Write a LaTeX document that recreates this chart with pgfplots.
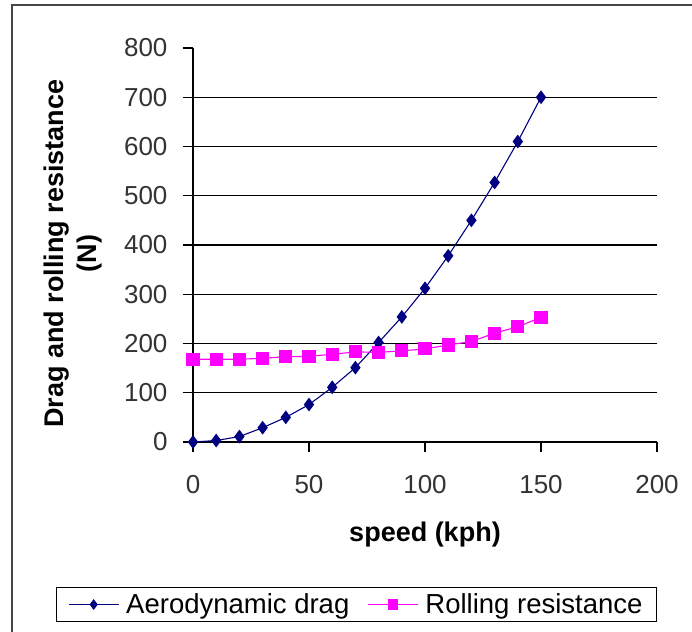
\documentclass[border=0pt]{standalone}
\usepackage{fontspec}
\setmainfont{Liberation Sans}
\usepackage{pgfplots}
\pgfplotsset{compat=1.18}
\definecolor{dragc}{RGB}{0,0,128}
\definecolor{rollc}{RGB}{255,0,255}
\definecolor{framec}{RGB}{70,70,70}
\begin{document}
\begin{tikzpicture}[x=1pt,y=1pt]
\useasboundingbox (0,0) rectangle (692,631);
\draw[framec, line width=2pt] (12,-10) -- (12,626) -- (700,626);
\begin{axis}[
  at={(193pt,189pt)}, anchor=south west,
  scale only axis, width=464pt, height=394pt,
  xmin=0, xmax=200, ymin=0, ymax=800,
  axis lines*=left,
  axis line style={black, line width=1.2pt},
  xtick={0,50,...,200},
  ytick={0,100,...,700},
  extra y ticks={800},
  extra y tick style={grid=none},
  ymajorgrids,
  major grid style={black, line width=1.1pt},
  tick align=outside,
  major tick length=10pt,
  tick style={black, line width=1.2pt},
  /pgf/number format/assume math mode=true,
  ticklabel style={font=\fontsize{26}{30}\selectfont, text=black!80},
  xticklabel style={yshift=-20pt},
  yticklabel style={xshift=-12pt},
  xlabel={\textbf{speed (kph)}},
  ylabel={\textbf{Drag and rolling resistance}\\\textbf{(N)}},
  label style={font=\fontsize{27}{33}\selectfont},
  xlabel style={at={(axis description cs:0.5,-0.236)}, anchor=center},
  ylabel style={at={(axis description cs:-0.2586,0.478)}, anchor=center, align=center},
  clip=false,
  legend columns=2,
  legend style={at={(axis description cs:0.352,-0.4125)}, anchor=center,
    draw=black, line width=1pt, font=\fontsize{27.5}{30}\selectfont,
    inner xsep=12pt, inner ysep=4pt,
    /tikz/every odd column/.append style={column sep=5pt},
    /tikz/every even column/.append style={column sep=16pt}},
  legend image code/.code={\draw[#1, mark size=4.5pt, mark repeat=2, mark phase=2] plot coordinates {(0pt,0pt) (25pt,0pt) (50pt,0pt)};},
]
\addplot[dragc, line width=1.1pt, mark=diamond*, mark size=6pt, mark options={solid, fill=dragc}]
coordinates {(0,0) (10,3) (20,11) (30,29) (40,50) (50,76) (60,111) (70,151) (80,202) (90,254) (100,312) (110,378) (120,450) (130,527) (140,610) (150,700)};
\addlegendentry{Aerodynamic drag}
\addplot[rollc, line width=1.1pt, mark=square*, mark size=6pt, mark options={solid, fill=rollc}]
coordinates {(0,168) (10,168) (20,168) (30,170) (40,173) (50,174) (60,178) (70,183) (80,182) (90,185) (100,189) (110,197) (120,204) (130,221) (140,234) (150,253)};
\addlegendentry{Rolling resistance}
\end{axis}
\end{tikzpicture}
\end{document}
